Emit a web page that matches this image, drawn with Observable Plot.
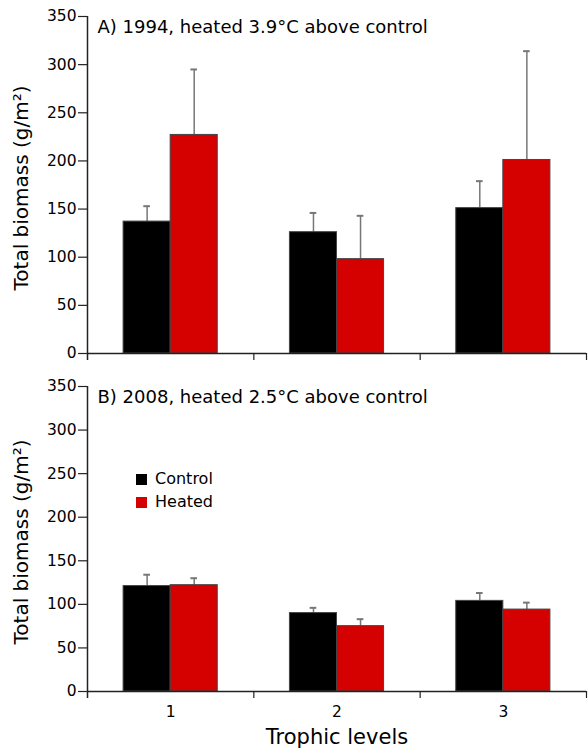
<!DOCTYPE html>
<html><head><meta charset="utf-8">
<script src="https://cdn.jsdelivr.net/npm/d3@7"></script>
<script src="https://cdn.jsdelivr.net/npm/@observablehq/plot@0.6"></script>
<style>
body{margin:0;background:#fff;font-family:"DejaVu Sans",sans-serif;}
#wrap{position:relative;width:588px;height:748px;}
#wrap svg{display:block;font-family:"DejaVu Sans",sans-serif;}
.leg{position:absolute;left:136px;font-size:16px;color:#000;display:flex;align-items:center;line-height:1;}
.leg span.sw{display:inline-block;width:11px;height:11px;margin-right:8px;}
</style></head><body>
<div id="wrap"></div>
<script>
// ---- data ----
const levels = [1, 2, 3];
const treatments = ["Control", "Heated"];
const colors = ["#000000", "#d50000"];
const yTicks = [0, 50, 100, 150, 200, 250, 300, 350];

const titleA = "A) 1994, heated 3.9°C above control";
const control1994 = [137, 126, 151];
const controlSE1994 = [16, 20, 28];
const heated1994 = [227, 98, 201];
const heatedSE1994 = [68, 45, 113];

const titleB = "B) 2008, heated 2.5°C above control";
const control2008 = [121, 90, 104];
const controlSE2008 = [13, 6, 9];
const heated2008 = [122, 75, 94];
const heatedSE2008 = [8, 8, 8];

const yLabel = "Total biomass (g/m²)";
const xLabel = "Trophic levels";

// ---- build ----
const barW = 0.283;
function rows(ctrl, ctrlSE, heat, heatSE) {
  const out = [];
  levels.forEach((lv, i) => {
    out.push({level: lv, t: 0, treatment: treatments[0], value: ctrl[i], se: ctrlSE[i]});
    out.push({level: lv, t: 1, treatment: treatments[1], value: heat[i], se: heatSE[i]});
  });
  return out;
}
const center = d => d.level + (d.t - 0.5) * barW;

function panel(title, data, {height, marginTop, marginBottom, bottom}) {
  const axisColor = "#222";
  const marks = [
    Plot.ruleX(data, {x: center, y1: "value", y2: d => d.value + d.se, stroke: "#777", strokeWidth: 1.5}),
    Plot.ruleY(data, {y: d => d.value + d.se, x1: d => center(d) - 0.02, x2: d => center(d) + 0.02, stroke: "#777", strokeWidth: 2}),
    Plot.rectY(data, {x1: d => d.level + (d.t - 1) * barW, x2: d => d.level + d.t * barW, y1: 0, y2: "value",
      fill: "treatment", stroke: "#444", strokeWidth: 1}),
    Plot.axisY({ticks: yTicks, label: null, tickSize: 9, tickPadding: 2, fontSize: 15.5, stroke: axisColor, strokeWidth: 1.2}),
    Plot.ruleX([0.5], {insetBottom: -7, stroke: axisColor, strokeWidth: 1.5}),
    Plot.ruleY([0], {x1: 0.5, x2: 3.5, stroke: axisColor, strokeWidth: 1.5}),
    Plot.axisX({ticks: [1.5, 2.5, 3.5], label: null, tickSize: 7, tickFormat: () => "", stroke: axisColor, strokeWidth: 1.2}),
    Plot.text([title], {frameAnchor: "top-left", dx: 10, dy: 11, textAnchor: "start", lineAnchor: "middle", fontSize: 18, fill: "#000"}),
    Plot.text([yLabel], {frameAnchor: "left", rotate: -90, dx: -66, dy: 3, textAnchor: "middle", lineAnchor: "middle", fontSize: 20, fill: "#000"})
  ];
  if (bottom) {
    marks.push(Plot.axisX({ticks: levels, label: null, tickSize: 0, tickPadding: 14, fontSize: 15.5, tickFormat: d => String(d)}));
    marks.push(Plot.text([xLabel], {frameAnchor: "bottom", dy: 46, lineAnchor: "middle", fontSize: 21, fill: "#000"}));
  }
  return Plot.plot({
    width: 588, height, marginLeft: 87, marginRight: 2, marginTop, marginBottom,
    style: {background: "#fff", color: "#000", overflow: "visible", fontFamily: "DejaVu Sans"},
    x: {domain: [0.5, 3.5], axis: null},
    y: {domain: [0, 350], axis: null},
    color: {domain: treatments, range: colors},
    marks
  });
}

const wrap = document.getElementById("wrap");
wrap.appendChild(panel(titleA, rows(control1994, controlSE1994, heated1994, heatedSE1994),
  {height: 370, marginTop: 16, marginBottom: 17, bottom: false}));
wrap.appendChild(panel(titleB, rows(control2008, controlSE2008, heated2008, heatedSE2008),
  {height: 378, marginTop: 16, marginBottom: 57, bottom: true}));

// legend
treatments.forEach((t, i) => {
  const div = document.createElement("div");
  div.className = "leg";
  div.style.top = (471 + i * 23) + "px";
  div.innerHTML = `<span class="sw" style="background:${colors[i]}"></span>${t}`;
  wrap.appendChild(div);
});
</script>
</body></html>
